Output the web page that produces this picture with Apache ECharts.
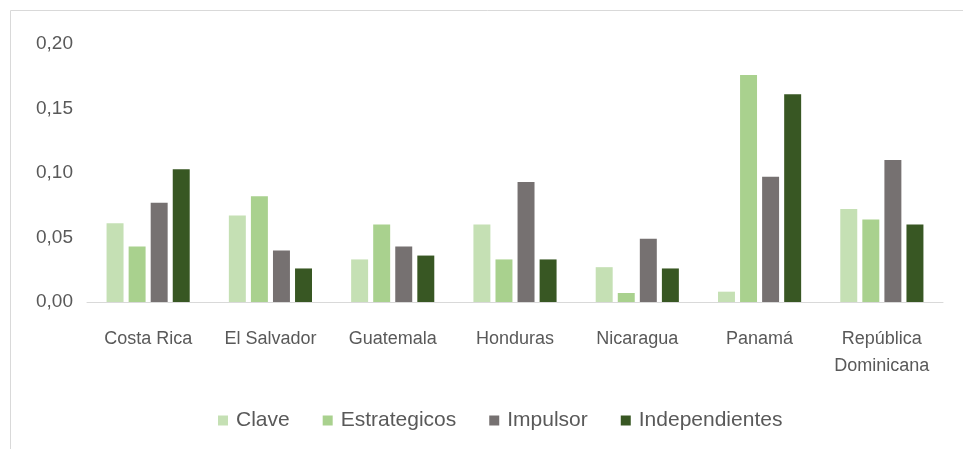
<!DOCTYPE html>
<html>
<head>
<meta charset="utf-8">
<script src="https://cdn.jsdelivr.net/npm/echarts@6/dist/echarts.min.js"></script>
<style>
  html, body { margin: 0; padding: 0; background: #fff; }
  #chart { width: 963px; height: 449px; }
</style>
</head>
<body>
<div id="chart"></div>
<script>
var paises = ["Costa Rica", "El Salvador", "Guatemala", "Honduras", "Nicaragua", "Panamá", "República\nDominicana"];
var clave = [0.061, 0.067, 0.033, 0.060, 0.027, 0.008, 0.072];
var estrategicos = [0.043, 0.082, 0.060, 0.033, 0.007, 0.176, 0.064];
var impulsor = [0.077, 0.040, 0.043, 0.093, 0.049, 0.097, 0.110];
var independientes = [0.103, 0.026, 0.036, 0.033, 0.026, 0.161, 0.060];

var fuente = "'Liberation Sans', sans-serif";
var chart = echarts.init(document.getElementById("chart"));

function serie(nombre, datos, color) {
  return {
    name: nombre,
    type: "bar",
    data: datos,
    barGap: "30%",
    barCategoryGap: "32%",
    itemStyle: { color: color }
  };
}

chart.setOption({
  animation: false,
  graphic: [{
    type: "rect",
    shape: { x: 10.5, y: 10.5, width: 970, height: 460 },
    style: { fill: "none", stroke: "#d9d9d9", lineWidth: 1 }
  }],
  legend: {
    top: 405,
    left: 213,
    itemWidth: 10,
    itemHeight: 10,
    itemGap: 33,
    icon: "rect",
    textStyle: { color: "#595959", fontSize: 21, fontFamily: fuente, padding: [0, 0, 0, 3] }
  },
  grid: { left: 87, right: 20, top: 44, bottom: 147 },
  xAxis: {
    type: "category",
    data: paises,
    axisLine: { lineStyle: { color: "#d9d9d9" } },
    axisTick: { show: false },
    axisLabel: { color: "#595959", fontSize: 18, fontFamily: fuente, margin: 24, lineHeight: 27, interval: 0 }
  },
  yAxis: {
    type: "value",
    min: 0,
    max: 0.2,
    interval: 0.05,
    splitLine: { show: false },
    axisLabel: {
      color: "#595959", fontSize: 19, fontFamily: fuente, margin: 14,
      formatter: function (v) { return v.toFixed(2).replace(".", ","); }
    }
  },
  series: [
    serie("Clave", clave, "#c5e0b4"),
    serie("Estrategicos", estrategicos, "#a9d18e"),
    serie("Impulsor", impulsor, "#767171"),
    serie("Independientes", independientes, "#385723")
  ]
});
</script>
</body>
</html>
